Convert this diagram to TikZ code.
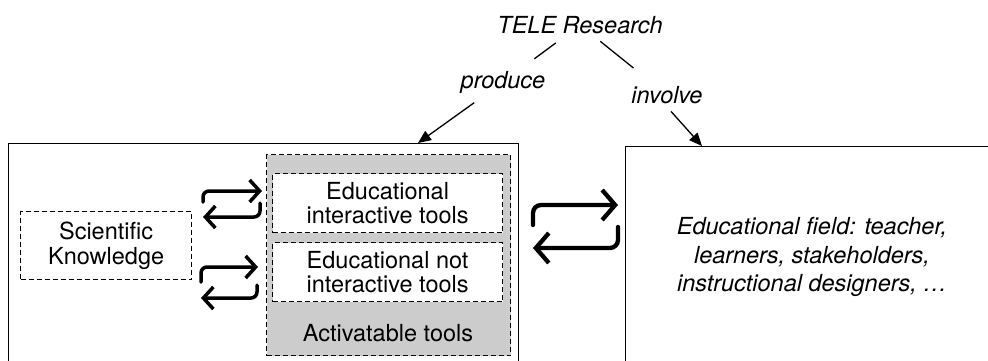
\documentclass[tikz,border=0pt]{standalone}
\usepackage{fontspec}
\setmainfont{TeX Gyre Heros}
\usetikzlibrary{arrows.meta,positioning}

\tikzset{
  outerbox/.style={draw, line width=1.3pt, anchor=north west},
  dashbox/.style={draw, dashed, dash pattern=on 5pt off 3pt, line width=1.2pt,
    fill=white, align=center, anchor=north west},
  toolbox/.style={dashbox, fill=gray!40},
  label/.style={font=\fontsize{23.5}{25}\selectfont\itshape, inner sep=3pt},
  relate/.style={line width=1.3pt},
  pointer/.style={relate, -{Triangle[length=13pt,width=11pt]}},
  loopbig/.style={line width=4.3pt, rounded corners=8pt, line cap=round,
    -{Straight Barb[length=13pt,width=30pt]}},
  loopsmall/.style={line width=3.5pt, rounded corners=6pt, line cap=round,
    -{Straight Barb[length=10pt,width=22pt]}},
}

\begin{document}
\begin{tikzpicture}[x=1pt, y=-1pt, font=\fontsize{23.5}{24.5}\selectfont]
  \useasboundingbox (0,0) rectangle (988,360);
  \clip (0,0) rectangle (988,360);

  % the two main boxes
  \node[outerbox, minimum width=510pt, minimum height=280pt] (prodbox) at (8,143) {};
  \node[outerbox, minimum width=420pt, minimum height=280pt] (fieldbox) at (625,146) {};

  % tools column
  \node[toolbox, minimum width=244pt, minimum height=201pt] (tools) at (266,154) {};
  \node[dashbox, minimum width=230pt, minimum height=59pt] (itools) at (272,173)
    {Educational\\interactive tools};
  \node[dashbox, minimum width=230pt, minimum height=59pt] (ntools) at (272,242)
    {Educational not\\interactive tools};
  \node (acttools) at (388,333) {Activatable tools};

  % knowledge
  \node[dashbox, minimum width=171pt, minimum height=68pt] (sci) at (20,211)
    {Scientific\\Knowledge};

  % field text
  \node[font=\fontsize{23.5}{28.5}\selectfont\itshape, align=center] (field) at (812,257)
    {Educational field: teacher,\\learners, stakeholders,\\instructional designers, …};

  % top labels
  \node[label] (tele) at (580,25) {TELE Research};
  \node[label] (produce) at (503,82) {produce};
  \node[label] (involve) at (667,95) {involve};

  \coordinate (prodpin) at ([xshift=410pt]prodbox.north west);
  \coordinate (fieldpin) at ([xshift=77pt]fieldbox.north west);

  \draw[relate, shorten <=10pt, shorten >=15pt] (tele) -- (produce);
  \draw[relate, shorten <=7pt, shorten >=24pt] (tele) -- (involve);
  \draw[pointer, shorten <=11pt] (produce) -- (prodpin);
  \draw[pointer, shorten <=6pt] (involve.south) -- (fieldpin);

  % exchange arrows: knowledge <-> tools
  \draw[loopsmall] (203,202) -- (203,191) -- (262,191);
  \draw[loopsmall] (260,203) -- (260,217) -- (203,217);
  \draw[loopsmall] (201,282) -- (201,267) -- (258,267);
  \draw[loopsmall] (257,285) -- (257,298) -- (201,298);

  % exchange arrows: research products <-> field
  \draw[loopbig] (533,225) -- (533,205) -- (618,205);
  \draw[loopbig] (618,227) -- (618,248) -- (533,248);
\end{tikzpicture}
\end{document}
